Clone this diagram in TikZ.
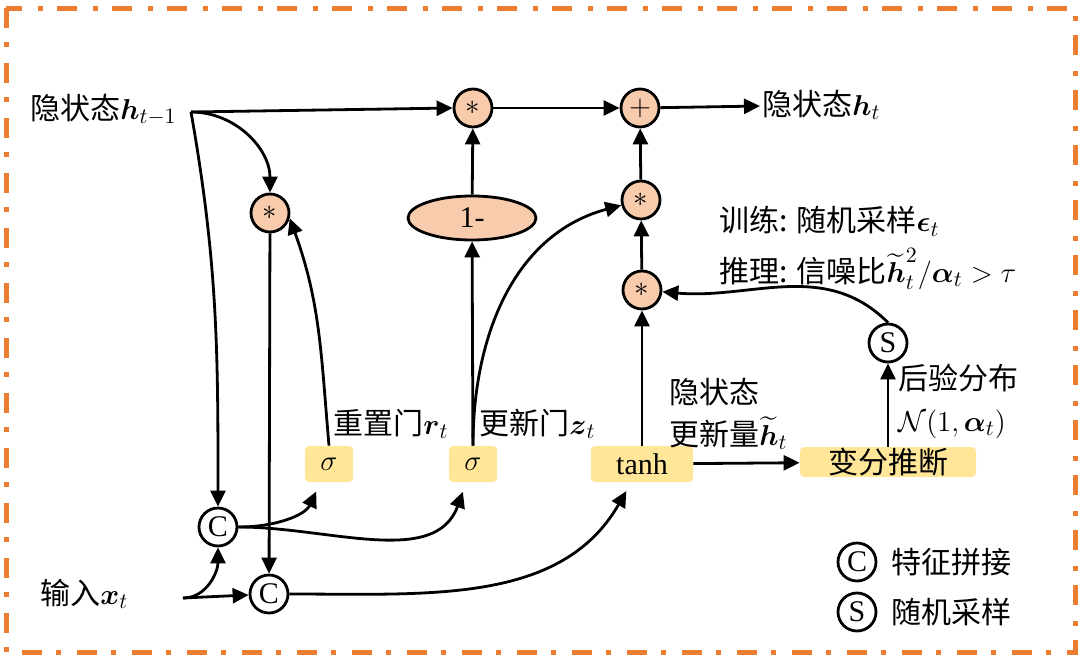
\documentclass[tikz,border=0pt]{standalone}
\usepackage{amsmath}
\usepackage{amssymb}
\usepackage{fontspec}
\setmainfont{Liberation Serif}
\newfontfamily\cjk{Noto Sans CJK SC}
\usetikzlibrary{positioning, arrows.meta, shapes}

\definecolor{peach}{RGB}{248,203,173}
\definecolor{gatey}{RGB}{255,230,153}
\definecolor{framec}{RGB}{237,125,49}

\begin{document}
\begin{tikzpicture}[x=0.5pt, y=-0.5pt,
		every node/.style={font=\fontsize{15}{18}\selectfont},
		opc/.style={circle, draw, line width=1.4pt, fill=peach, inner sep=0pt, minimum size=19pt},
		tag/.style={circle, draw, line width=1.4pt, fill=white, inner sep=0pt, minimum size=19pt},
		onebox/.style={ellipse, draw, line width=1.4pt, fill=peach, inner sep=0pt, minimum width=64pt, minimum height=22pt},
		gate/.style={rectangle, fill=gatey, rounded corners=2pt, inner sep=0pt, minimum height=18pt},
		lbl/.style={inner sep=1pt, anchor=west, font=\fontsize{15}{18}\selectfont\cjk},
		wire/.style={->, line width=1.4pt},
		>={Triangle[length=8pt, width=7.5pt]}
	]

	\useasboundingbox (0,0) rectangle (1081,664);
	\draw[framec, line width=2.5pt, dash pattern=on 10pt off 7pt on 2.5pt off 8pt] (6,8) rectangle (1075,652);

	\node[opc] (mulr) at (270,213) {$\ast$};
	\node[opc] (mulz) at (473,108) {$\ast$};
	\node[opc] (plus) at (640,108) {$+$};
	\node[opc] (mulh) at (641,200) {$\ast$};
	\node[opc] (muls) at (642,290) {$\ast$};
	\node[onebox] (onem) at (472,218) {1-};

	\node[gate, minimum width=24pt] (sigr) at (329,464) {$\sigma$};
	\node[gate, minimum width=24pt] (sigz) at (473,464) {$\sigma$};
	\node[gate, minimum width=51pt] (tanhl) at (642,464) {tanh};
	\node[gate, minimum width=88pt, minimum height=15pt] (varinf) at (888,462) {\cjk 变分推断};

	\node[tag] (catA) at (218,527) {C};
	\node[tag] (catB) at (269,594) {C};
	\node[tag] (samp) at (888,343) {S};

	\node[lbl] (hprev) at (28,110) {隐状态$\boldsymbol{h}_{t-1}$};
	\node[lbl] (hnext) at (760,105) {隐状态$\boldsymbol{h}_t$};
	\node[lbl] (xin) at (38,594) {输入$\boldsymbol{x}_t$};
	\coordinate (hsp) at (191,112);
	\coordinate (xsp) at (183,598);

	\node[lbl] (rlab) at (331,424) {重置门$\boldsymbol{r}_t$};
	\node[lbl] (zlab) at (477,424) {更新门$\boldsymbol{z}_t$};
	\node[lbl, align=left] (hlab) at (667,414) {隐状态\\[3pt]更新量$\widetilde{\boldsymbol{h}}_t$};
	\node[lbl, align=left] (post) at (896,401) {后验分布\\[3pt]$\mathcal{N}(1,\boldsymbol{\alpha}_t)$};
	\node[lbl, align=left] (rule) at (717,248) {训练: 随机采样$\boldsymbol{\epsilon}_t$\\[5pt]推理: 信噪比$\widetilde{\boldsymbol{h}}_t^2/\boldsymbol{\alpha}_t>\tau$};

	\node[tag] (legc) at (857,562) {C};
	\node[lbl, right=6pt of legc] (legct) {特征拼接};
	\node[tag] (legs) at (857,612) {S};
	\node[lbl, right=6pt of legs] (legst) {随机采样};

	\foreach \a/\b in {hsp/mulz.west, mulz/plus, plus/hnext, onem/mulz, sigz/onem, muls/mulh, mulh/plus, tanhl/muls, tanhl/varinf, varinf/samp, mulr/catB, xsp/catB}
		\draw[wire] (\a) -- (\b);

	\draw[wire] (hsp) to[out=0, in=90] (mulr);
	\draw[wire] (hsp) to[out=-80, in=90] (catA);
	\draw[wire] (xsp) to[out=0, in=-90] (catA);
	\draw[wire, shorten >=5pt] (catA) to[out=0, in=-115] (sigr);
	\draw[wire, shorten >=5pt] (catA) to[out=0, in=-110] (sigz);
	\draw[wire, shorten >=5pt] (catB) to[out=0, in=-120] (tanhl);
	\draw[wire] (sigr.north) to[out=95, in=-70] (mulr.-15);
	\draw[wire] (sigz.north) to[out=90, in=195] (mulh);
	\draw[wire] (samp.north) to[out=135, in=-5] (muls);

\end{tikzpicture}
\end{document}
